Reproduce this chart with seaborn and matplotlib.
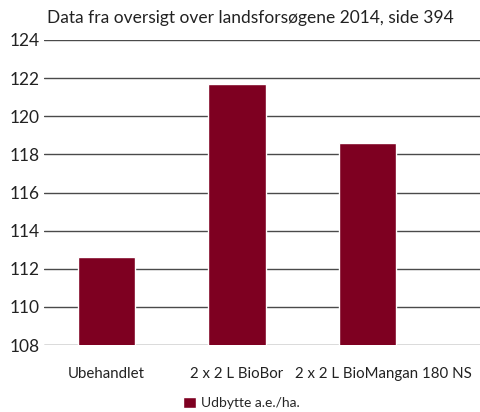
import matplotlib
matplotlib.use('Agg')
import matplotlib.pyplot as plt
import matplotlib.transforms as mtransforms
import seaborn as sns

# data
categories = ['Ubehandlet', '2 x 2 L BioBor', '2 x 2 L BioMangan 180 NS']
yields = [112.6, 121.7, 118.6]
series_label = 'Udbytte a.e./ha.'
title = 'Data fra oversigt over landsforsøgene 2014, side 394'
y_ticks = [108, 110, 112, 114, 116, 118, 120, 122, 124]

sns.set_style('white')
plt.rcParams['font.family'] = ['Lato', 'DejaVu Sans']

fig = plt.figure(figsize=(4.81, 4.12), dpi=100)
ax = fig.add_axes([44 / 481, 1 - 345 / 412, 1 - 44 / 481, (345 - 40) / 412])

sns.barplot(x=categories, y=yields, color='#7e0021', saturation=1,
            width=0.44, label=series_label, ax=ax, zorder=3)

ax.set_ylim(108, 124)
ax.set_yticks(y_ticks)
ax.set_xlim(-0.479, 2.870)
ax.yaxis.grid(True, color='#4a4a4a', linewidth=1.0, zorder=0)
ax.set_axisbelow(True)
for s in ax.spines.values():
    s.set_visible(False)
ax.tick_params(axis='y', length=0, pad=3, labelsize=12.5, labelcolor='#222222')
ax.tick_params(axis='x', length=0, pad=16, labelsize=10.8, labelcolor='#222222')
ax.set_xlabel('')
ax.set_ylabel('')

# last category label sits a bit to the right in the original
lbl = ax.get_xticklabels()[2]
lbl.set_transform(lbl.get_transform() + mtransforms.ScaledTranslation(16 / 100, 0, fig.dpi_scale_trans))

fig.text(47 / 481, 1 - 18 / 412, title, fontsize=12.5, color='#222222', va='center', ha='left')

ax.legend(loc='center left', bbox_to_anchor=(183 / 481, 1 - 403 / 412),
          bbox_transform=fig.transFigure, frameon=False, fontsize=10,
          handlelength=0.9, handleheight=0.9, handletextpad=0.4,
          borderpad=0, borderaxespad=0)

fig.savefig('out.png', dpi=100)
